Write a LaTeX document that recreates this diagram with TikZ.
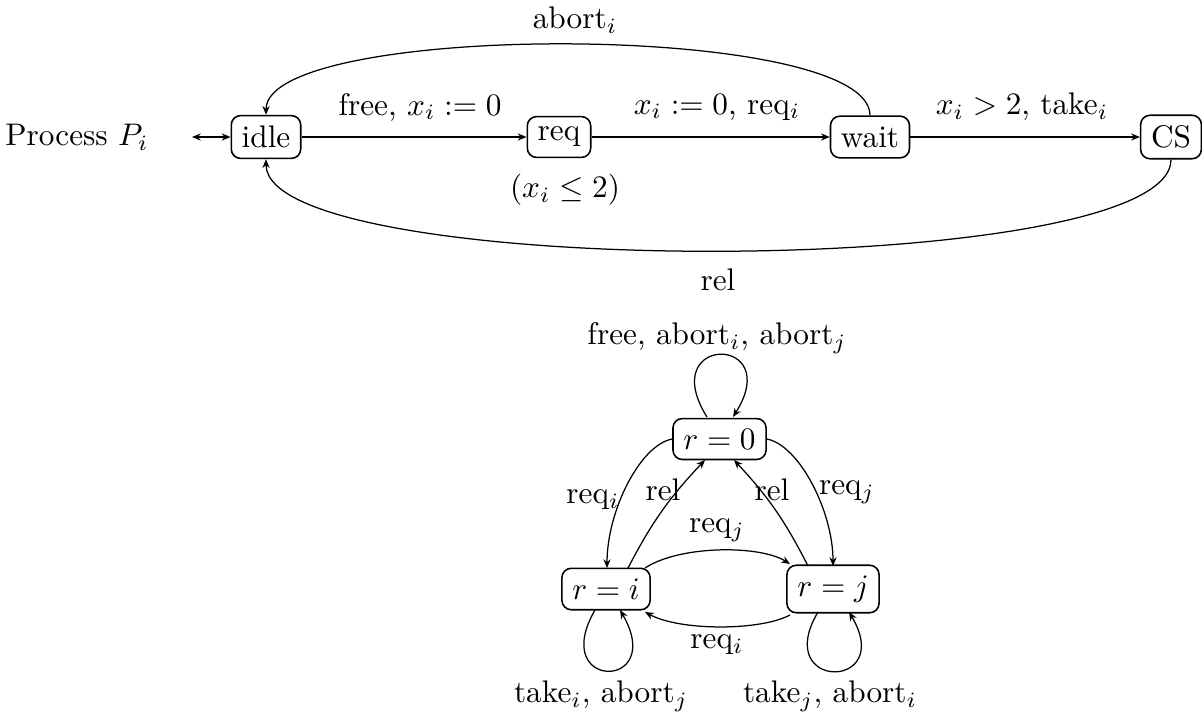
\documentclass[tikz,border=0pt]{standalone}
\usetikzlibrary{arrows.meta}
\begin{document}
\begin{tikzpicture}[x=0.32pt,y=0.32pt,
  state/.style={draw,rounded corners=3pt,inner sep=3.33pt,line width=0.5pt},
  lbl/.style={inner sep=0pt},
  edge/.style={-{Stealth[length=2.8pt,width=2.3pt]},line width=0.4pt},
  bedge/.style={{Stealth[length=2.8pt,width=2.3pt]}-{Stealth[length=2.8pt,width=2.3pt]},line width=0.4pt}]
\useasboundingbox (0,0) rectangle (1202,711);
% upper automaton
\node[lbl] (proc) at (77,574) {Process $P_i$};
\node[state] (idle) at (266,574) {idle};
\node[state] (req) at (559,574) {req};
\node[state] (wait) at (870,574) {wait};
\node[state] (cs) at (1171,574) {CS};
\coordinate (pl) at (192,574);
\draw[bedge] (pl) -- (idle);
\draw[edge] (idle) -- (req);
\draw[edge] (req) -- (wait);
\draw[edge] (wait) -- (cs);
\draw[edge] (wait.north) .. controls (870,690) and (266,690) .. (idle.north);
\draw[edge] (cs.south) .. controls (1171,430) and (266,430) .. (idle.south);
\node[lbl] (labort) at (575,691) {abort$_i$};
\node[lbl] (lfree) at (420,604) {free, $x_i := 0$};
\node[lbl] (lreq) at (717,604) {$x_i := 0$, req$_i$};
\node[lbl] (ltake) at (1022,604) {$x_i > 2$, take$_i$};
\node[lbl] (linv) at (565,521) {$(x_i \leq 2)$};
\node[lbl] (lrel) at (718,431) {rel};
% lower automaton
\node[state] (r0) at (719.5,272) {$r = 0$};
\node[state] (ri) at (606,122) {$r = i$};
\node[state] (rj) at (833,122) {$r = j$};
\draw[edge] (707,294) .. controls (655,377) and (785,377) .. (733,294);
\draw[edge] (r0.west) .. controls (640,266) and (607,200) .. (607,143);
\draw[edge] (628,143) to[bend left=8] (705,251);
\draw[edge] (r0.east) .. controls (799,266) and (833,200) .. (833,145);
\draw[edge] (808,145) to[bend right=8] (734,251);
\draw[edge] (645,143) .. controls (680,166) and (760,166) .. (790,147);
\draw[edge] (790,96) .. controls (760,80) and (680,80) .. (645,99);
\draw[edge] (595,101) .. controls (548,20) and (667,20) .. (620,101);
\draw[edge] (818,99) .. controls (771,20) and (896,20) .. (849,99);
\node[lbl] (lloop0) at (717,373) {free, abort$_i$, abort$_j$};
\node[lbl] (lreqi) at (593,211) {req$_i$};
\node[lbl] (lreli) at (663,221) {rel};
\node[lbl] (lreqj) at (847,219) {req$_j$};
\node[lbl] (lrelj) at (772,221) {rel};
\node[lbl] (lreqjm) at (717,181) {req$_j$};
\node[lbl] (lreqib) at (717,66) {req$_i$};
\node[lbl] (lloopi) at (601,15) {take$_i$, abort$_j$};
\node[lbl] (lloopj) at (830,15) {take$_j$, abort$_i$};
\end{tikzpicture}
\end{document}
